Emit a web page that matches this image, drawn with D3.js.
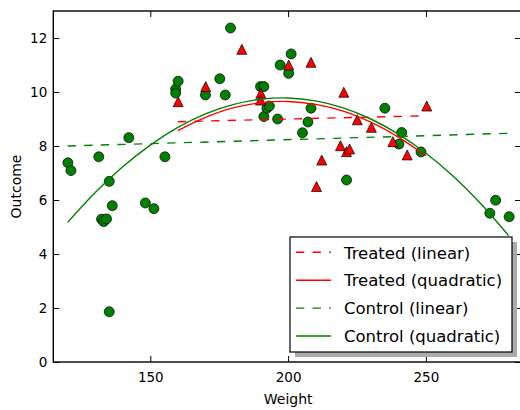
<!DOCTYPE html>
<html>
<head>
<meta charset="utf-8">
<script src="https://cdn.jsdelivr.net/npm/d3@7"></script>
<style>
  body { margin: 0; background: #fff; }
  svg { display: block; font-family: "DejaVu Sans", sans-serif; }
</style>
</head>
<body>
<div id="chart"></div>
<script>
// scatter data
var treatedX = [160.1, 170.1, 183.2, 190.1, 190.0, 200.2, 208.3, 210.3, 212.2, 219.0,
                220.2, 221.2, 222.3, 225.1, 230.2, 238.0, 243.2, 250.3]
var treatedY = [9.64, 10.2, 11.58, 9.95, 9.7, 11.0, 11.1, 6.5, 7.48, 8.01,
                9.99, 7.79, 7.89, 8.97, 8.69, 8.16, 7.67, 9.48]

var controlX = [120.1, 121.2, 131.3, 132.3, 133.1, 134.1, 135.1, 135.1, 136.2, 142.2,
                148.2, 151.3, 155.3, 159.2, 159.2, 160.1, 170.0, 175.2, 177.2, 179.1,
                190.0, 191.2, 191.2, 192.3, 193.2, 196.2, 197.1, 200.2, 201.1, 205.2,
                207.2, 208.3, 221.2, 235.1, 240.2, 241.2, 248.2, 273.2, 275.3, 280.2]
var controlY = [7.38, 7.09, 7.60, 5.29, 5.20, 5.30, 6.69, 1.86, 5.79, 8.31,
                5.89, 5.68, 7.60, 10.11, 9.96, 10.4, 9.89, 10.49, 9.89, 12.37,
                10.2, 10.2, 9.09, 9.4, 9.48, 9.0, 11.0, 10.69, 11.41, 8.49,
                8.89, 9.4, 6.74, 9.4, 8.07, 8.5, 7.78, 5.51, 5.99, 5.38]

// fitted lines
var treatedLinX = [160, 250]
var treatedLinY = [8.9, 9.12]
var treatedQuadX = [160, 170, 180, 190, 200, 210, 220, 230, 240, 250]
var treatedQuadY = [8.57, 9.06, 9.41, 9.60, 9.65, 9.54, 9.29, 8.88, 8.33, 7.63]

var controlLinX = [120, 280]
var controlLinY = [8.0, 8.47]
var controlQuadX = [120, 130, 140, 150, 160, 170, 180, 190, 200, 210, 220, 230, 240, 250, 260, 270, 280]
var controlQuadY = [5.17, 6.28, 7.23, 8.03, 8.69, 9.19, 9.53, 9.73, 9.78, 9.67, 9.41, 9.0, 8.44, 7.73, 6.87, 5.85, 4.68]

var xTicks = [150, 200, 250]
var yTicks = [0, 2, 4, 6, 8, 10, 12]

var legendLabels = ['Treated (linear)', 'Treated (quadratic)', 'Control (linear)', 'Control (quadratic)']
var legendColors = ['#ff0000', '#ff0000', '#008000', '#008000']
var legendDashed = [true, false, true, false]

var width = 520, height = 410
var mLeft = 53.3, mRight = 521, mTop = 11, mBottom = 362

var svg = d3.select('#chart').append('svg')
    .attr('width', width)
    .attr('height', height)

var x = d3.scaleLinear().domain([114.8, 284.5]).range([mLeft, mRight])
var y = d3.scaleLinear().domain([0, 13]).range([mBottom, mTop])

svg.append('clipPath').attr('id', 'clip')
    .append('rect')
    .attr('x', mLeft).attr('y', mTop)
    .attr('width', mRight - mLeft).attr('height', mBottom - mTop)

var plot = svg.append('g').attr('clip-path', 'url(#clip)')

// markers
var circleData = controlX.map(function(d, i){ return [d, controlY[i]]; })
var triData = treatedX.map(function(d, i){ return [d, treatedY[i]]; })

plot.selectAll('.ctrl').data(circleData).enter()
    .append('circle')
    .attr('class', 'ctrl')
    .attr('cx', function(d){ return x(d[0]); })
    .attr('cy', function(d){ return y(d[1]); })
    .attr('r', 5)
    .attr('fill', '#008000')
    .attr('stroke', '#000')
    .attr('stroke-width', 0.7)

plot.selectAll('.trt').data(triData).enter()
    .append('path')
    .attr('class', 'trt')
    .attr('d', 'M0,-5L-5,5L5,5Z')
    .attr('transform', function(d){ return 'translate(' + x(d[0]) + ',' + y(d[1]) + ')'; })
    .attr('fill', '#ff0000')
    .attr('stroke', '#000')
    .attr('stroke-width', 0.7)

// lines
var line = d3.line()
    .x(function(d){ return x(d[0]); })
    .y(function(d){ return y(d[1]); })
    .curve(d3.curveCatmullRom)

function zip(a, b){ return a.map(function(d, i){ return [d, b[i]]; }); }

var series = [
    {pts: zip(treatedLinX, treatedLinY), color: '#ff0000', dashed: true},
    {pts: zip(treatedQuadX, treatedQuadY), color: '#ff0000', dashed: false},
    {pts: zip(controlLinX, controlLinY), color: '#008000', dashed: true},
    {pts: zip(controlQuadX, controlQuadY), color: '#008000', dashed: false}
]

plot.selectAll('.fit').data(series).enter()
    .append('path')
    .attr('class', 'fit')
    .attr('d', function(d){ return line(d.pts); })
    .attr('fill', 'none')
    .attr('stroke', function(d){ return d.color; })
    .attr('stroke-width', 1.4)
    .attr('stroke-dasharray', function(d){ return d.dashed ? '8.3,8.3' : null; })

// axes
svg.append('g').attr('transform', 'translate(0,' + mBottom + ')')
    .call(d3.axisBottom(x).tickValues(xTicks).tickSizeInner(-6).tickSizeOuter(0).tickPadding(10))
svg.append('g').attr('transform', 'translate(0,' + mTop + ')')
    .call(d3.axisTop(x).tickValues(xTicks).tickSizeInner(-6).tickSizeOuter(0).tickFormat(''))
svg.append('g').attr('transform', 'translate(' + mLeft + ',0)')
    .call(d3.axisLeft(y).tickValues(yTicks).tickSizeInner(-6).tickSizeOuter(0).tickPadding(6))
svg.append('g').attr('transform', 'translate(' + mRight + ',0)')
    .call(d3.axisRight(y).tickValues(yTicks).tickSizeInner(-6).tickSizeOuter(0).tickFormat(''))

svg.selectAll('.domain').remove()
svg.selectAll('.tick line').attr('stroke', '#000').attr('stroke-width', 1)
svg.selectAll('.tick text')
    .attr('fill', '#000')
    .style('font-size', '13.5px')
    .style('font-family', '"DejaVu Sans", sans-serif')

svg.append('rect')
    .attr('x', mLeft).attr('y', mTop)
    .attr('width', mRight - mLeft).attr('height', mBottom - mTop)
    .attr('fill', 'none')
    .attr('stroke', '#000')
    .attr('stroke-width', 1.4)

// axis labels
svg.append('text')
    .attr('x', (mLeft + mRight) / 2 + 1)
    .attr('y', 403.5)
    .attr('text-anchor', 'middle')
    .style('font-size', '14px')
    .text('Weight')

svg.append('text')
    .attr('transform', 'translate(21,' + ((mTop + mBottom) / 2) + ') rotate(-90)')
    .attr('text-anchor', 'middle')
    .style('font-size', '14px')
    .text('Outcome')

// legend
var lg = svg.append('g')
var lx = 290, ly = 237, lw = 222, lh = 115
lg.append('rect')
    .attr('x', lx + 5).attr('y', ly + 5)
    .attr('width', lw).attr('height', lh)
    .attr('fill', '#aaa')
lg.append('rect')
    .attr('x', lx).attr('y', ly)
    .attr('width', lw).attr('height', lh)
    .attr('fill', '#fff')
    .attr('stroke', '#000')
    .attr('stroke-width', 1.2)

var rows = lg.selectAll('.row').data(legendLabels).enter()
    .append('g')
    .attr('class', 'row')
    .attr('transform', function(d, i){ return 'translate(0,' + (252.3 + i * 27.9) + ')'; })

rows.append('line')
    .attr('x1', 296).attr('x2', 331)
    .attr('y1', 0).attr('y2', 0)
    .attr('stroke', function(d, i){ return legendColors[i]; })
    .attr('stroke-width', 1.4)
    .attr('stroke-dasharray', function(d, i){ return legendDashed[i] ? '8.3,8.3' : null; })

rows.append('text')
    .attr('x', 344)
    .attr('y', 6.2)
    .style('font-size', '16.5px')
    .text(function(d){ return d; })
</script>
</body>
</html>
